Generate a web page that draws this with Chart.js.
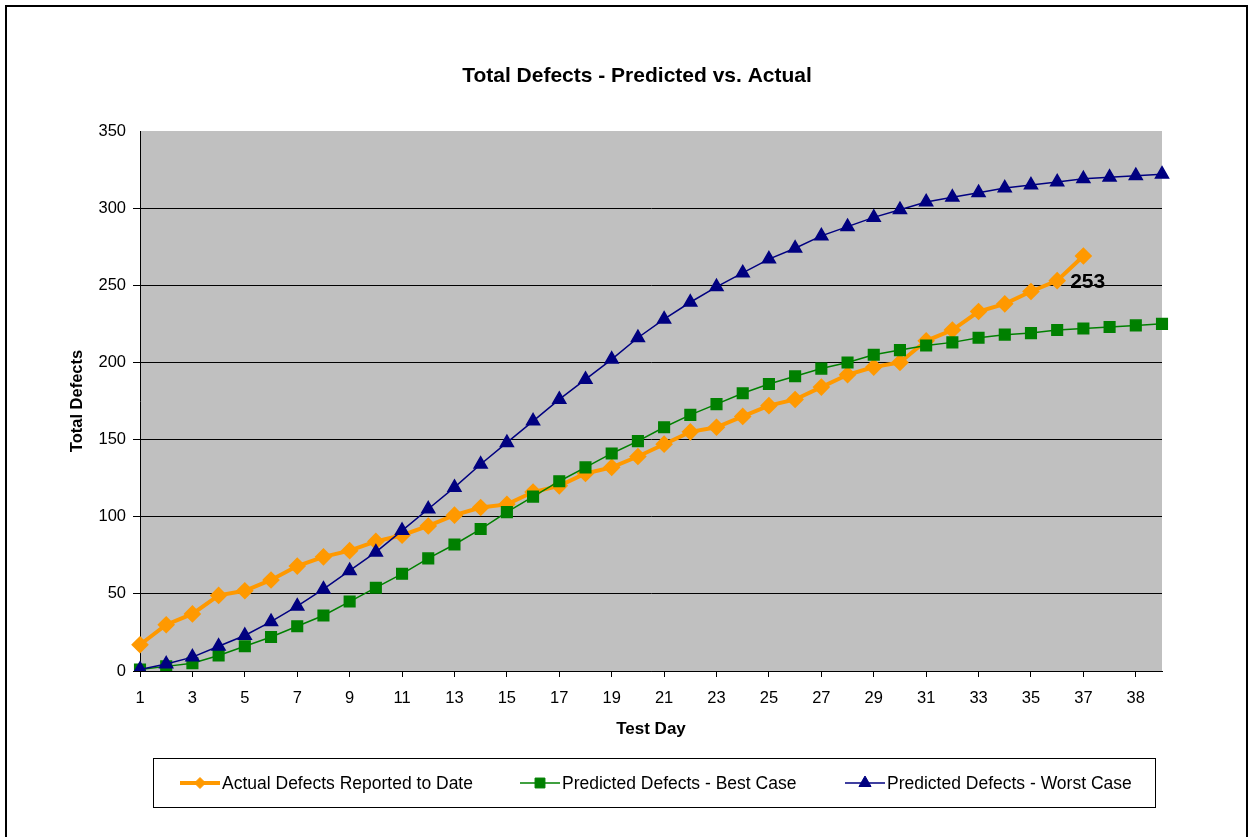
<!DOCTYPE html>
<html>
<head>
<meta charset="utf-8">
<title>Total Defects - Predicted vs. Actual</title>
<script src="https://cdn.jsdelivr.net/npm/chart.js@4.4.0/dist/chart.umd.min.js"></script>
<style>
  body { margin: 0; background: #fff; }
  #wrap { position: relative; width: 1251px; height: 837px; overflow: hidden; }
  #frame { position: absolute; left: 5px; top: 5px; width: 1239px; height: 900px; border: 2px solid #000; pointer-events: none; }
  canvas { position: absolute; left: 0; top: 0; }
</style>
</head>
<body>
<div id="wrap">
  <canvas id="defects" width="1251" height="837"></canvas>
  <div id="frame"></div>
</div>
<script>
// Test days (label at index 37 / 39 not shown on the axis)
const days = ['1','2','3','4','5','6','7','8','9','10','11','12','13','14','15','16','17','18','19','20',
              '21','22','23','24','25','26','27','28','29','30','31','32','33','34','35','36','37','','38',''];

// Actual defects reported so far (37 days)
const actual = [17, 30, 37, 49, 52, 59, 68, 74, 78, 84, 88, 94, 101, 106, 108, 116, 120, 128, 132, 139,
                147, 155, 158, 165, 172, 176, 184, 192, 197, 200, 214, 221, 233, 238, 246, 253, 269];

// Predicted - best case
const bestCase = [1, 3, 5, 10, 16, 22, 29, 36, 45, 54, 63, 73, 82, 92, 103, 113, 123, 132, 141, 149,
                  158, 166, 173, 180, 186, 191, 196, 200, 205, 208, 211, 213, 216, 218, 219, 221, 222, 223, 224, 225];

// Predicted - worst case
const worstCase = [1, 4.5, 9, 16, 23, 32, 42, 53, 65, 77, 91, 105, 119, 134, 148, 162, 176, 189, 202, 216,
                   228, 239, 249, 258, 267, 274, 282, 288, 294, 299, 304, 307, 310, 313, 315, 317, 319, 320, 321, 322];

const yTicks = [0, 50, 100, 150, 200, 250, 300, 350];
const labelDay = 35; // point that carries the "253" label

const FONT = "'Liberation Sans', Arial, sans-serif";

window.onload = function() {

    // grey plot area
    const plotBg = {
        id: 'plotBg',
        beforeDraw(chart) {
            const a = chart.chartArea, ctx = chart.ctx;
            ctx.save();
            ctx.fillStyle = '#c0c0c0';
            ctx.fillRect(a.left, a.top, a.right - a.left, a.bottom - a.top);
            ctx.restore();
        }
    };

    // title, data label and the boxed legend
    const extras = {
        id: 'extras',
        afterDraw(chart) {
            const ctx = chart.ctx;
            ctx.save();

            ctx.fillStyle = '#000';
            ctx.font = 'bold 21px ' + FONT;
            ctx.textAlign = 'center';
            ctx.textBaseline = 'middle';
            ctx.fillText('Total Defects - Predicted vs. Actual', 637, 76);

            const pt = chart.getDatasetMeta(0).data[labelDay];
            ctx.font = 'bold 21px ' + FONT;
            ctx.textAlign = 'left';
            ctx.fillText(String(actual[labelDay]), pt.x + 13, pt.y + 2);

            ctx.strokeStyle = '#000';
            ctx.lineWidth = 1;
            ctx.strokeRect(153.5, 758.5, 1002, 49);

            const starts = [180, 520, 845];
            ctx.font = '17.5px ' + FONT;
            ctx.textBaseline = 'middle';
            chart.data.datasets.forEach(function(ds, i) {
                const x = starts[i], y = 783;
                ctx.strokeStyle = ds.borderColor;
                ctx.lineWidth = ds.borderWidth;
                ctx.beginPath();
                ctx.moveTo(x, y);
                ctx.lineTo(x + 40, y);
                ctx.stroke();
                ctx.fillStyle = ds.pointBackgroundColor;
                ctx.strokeStyle = ds.pointBorderColor;
                ctx.lineWidth = 1;
                Chart.helpers.drawPoint(ctx, {pointStyle: ds.pointStyle, radius: ds.pointRadius - 0.5, borderWidth: 1, rotation: 0}, x + 20, y);
                ctx.fillStyle = '#000';
                ctx.fillText(ds.label, x + 42, y + 1);
            });
            ctx.restore();
        }
    };

    const canvas = document.getElementById('defects');
    new Chart(canvas, {
        type: 'line',
        data: {
            labels: days,
            datasets: [{
                label: 'Actual Defects Reported to Date',
                data: actual,
                borderColor: '#ff9900',
                backgroundColor: '#ff9900',
                pointBackgroundColor: '#ff9900',
                pointBorderColor: '#ff9900',
                borderWidth: 4,
                pointStyle: 'rectRot',
                pointRadius: 6,
                tension: 0,
                order: 3
            }, {
                label: 'Predicted Defects - Best Case',
                data: bestCase,
                borderColor: '#008000',
                backgroundColor: '#008000',
                pointBackgroundColor: '#008000',
                pointBorderColor: '#008000',
                borderWidth: 1.5,
                pointStyle: 'rect',
                pointRadius: 7.5,
                tension: 0,
                order: 2
            }, {
                label: 'Predicted Defects - Worst Case',
                data: worstCase,
                borderColor: '#000080',
                backgroundColor: '#000080',
                pointBackgroundColor: '#000080',
                pointBorderColor: '#000080',
                borderWidth: 1.5,
                pointStyle: 'triangle',
                pointRadius: 7.5,
                tension: 0,
                order: 1
            }]
        },
        options: {
            responsive: false,
            animation: false,
            layout: { padding: { left: 0, right: 89, top: 131, bottom: 66 } },
            plugins: {
                legend: { display: false },
                title: { display: false },
                tooltip: { enabled: false }
            },
            scales: {
                x: {
                    offset: false,
                    grid: {
                        drawOnChartArea: false,
                        tickLength: 6,
                        color: c => (c.index % 2 === 0 ? '#000' : 'rgba(0,0,0,0)')
                    },
                    border: { color: '#000', width: 1 },
                    ticks: {
                        autoSkip: false,
                        maxRotation: 0,
                        padding: 12,
                        color: '#000',
                        font: { family: FONT, size: 16.5 },
                        callback: function(v, i) { return i % 2 === 0 ? this.getLabelForValue(v) : ''; }
                    },
                    title: {
                        display: true,
                        text: 'Test Day',
                        color: '#000',
                        font: { family: FONT, size: 17, weight: 'bold' },
                        padding: { top: 0, bottom: 31 }
                    },
                    afterFit: s => { s.height = 100; }
                },
                y: {
                    min: yTicks[0],
                    max: yTicks[yTicks.length - 1],
                    afterBuildTicks: s => { s.ticks = yTicks.map(v => ({ value: v })); },
                    grid: {
                        tickLength: 7,
                        color: c => (c.tick && c.tick.value === 350 ? 'rgba(0,0,0,0)' : '#000')
                    },
                    border: { color: '#000', width: 1 },
                    ticks: {
                        padding: 7,
                        color: '#000',
                        font: { family: FONT, size: 16.5 }
                    },
                    title: {
                        display: true,
                        text: 'Total Defects',
                        color: '#000',
                        font: { family: FONT, size: 16.5, weight: 'bold' },
                        padding: { top: 68, bottom: 0 }
                    },
                    afterFit: s => { s.width = 140; }
                }
            }
        },
        plugins: [plotBg, extras]
    });
};
</script>
</body>
</html>
